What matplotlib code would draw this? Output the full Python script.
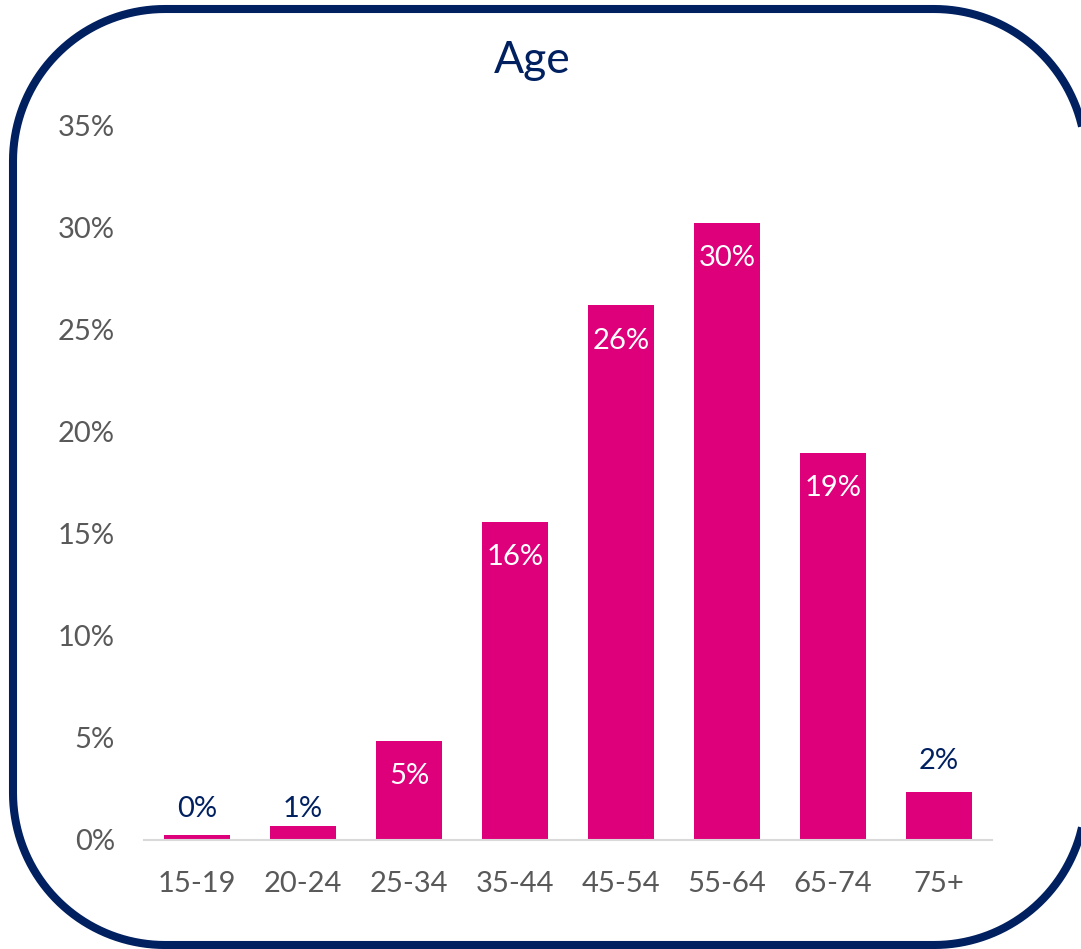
import numpy as np
import matplotlib.pyplot as plt
from matplotlib.patches import PathPatch
from matplotlib.path import Path
from matplotlib.ticker import FuncFormatter

plt.rcParams['font.family'] = ['Lato', 'DejaVu Sans']

ages = ["15-19", "20-24", "25-34", "35-44", "45-54", "55-64", "65-74", "75+"]
shares = [0.23, 0.69, 4.85, 15.6, 26.2, 30.25, 18.97, 2.37]

navy = "#002060"
pink = "#DE007A"
grey = "#595959"

fig = plt.figure(figsize=(10.81, 9.49), dpi=100)
ax = fig.add_axes([0.1332, 0.1149, 0.7845, 0.7524])

x = range(len(ages))
bars = ax.bar(x, shares, width=0.63, color=pink, zorder=2)

for b, v in zip(bars, shares):
    cx = b.get_x() + b.get_width() / 2
    if v > 4:
        ax.annotate(f"{v:.0f}%", (cx, v), xytext=(0, -25.5), textcoords="offset points",
                    ha="center", va="center", color="white", fontsize=21)
    else:
        # small bars: label sits above the bar but never closer to the axis than this
        anchor = v if v > 1.5 else 0
        ax.annotate(f"{v:.0f}%", (cx, anchor), xytext=(0, 22), textcoords="offset points",
                    ha="center", va="center", color=navy, fontsize=21)

ax.set_xlim(-0.5, len(ages) - 0.5)
ax.set_ylim(0, 35)
ax.set_yticks(range(0, 36, 5))
ax.yaxis.set_major_formatter(FuncFormatter(lambda v, p: f"{v:.0f}%"))
ax.set_xticks(list(x))
ax.set_xticklabels(ages)
ax.tick_params(axis="y", length=0, pad=21, labelsize=21, labelcolor=grey)
ax.tick_params(axis="x", length=0, pad=22, labelsize=21, labelcolor=grey)

for s in ["top", "right", "left"]:
    ax.spines[s].set_visible(False)
ax.spines["bottom"].set_color("#D9D9D9")
ax.spines["bottom"].set_linewidth(1.5)

fig.text(0.492, 0.936, "Age", ha="center", va="center", color=navy, fontsize=32)

# rounded frame (inches), partly cut off on the right
x0, x1, y0, y1, r = 0.13, 10.86, 0.04, 9.40, 1.52
pts = []
for cx, cy, a0 in [(x1 - r, y1 - r, 0), (x0 + r, y1 - r, 90),
                   (x0 + r, y0 + r, 180), (x1 - r, y0 + r, 270)]:
    t = np.radians(np.linspace(a0, a0 + 90, 40))
    pts += list(zip(cx + r * np.cos(t), cy + r * np.sin(t)))
pts.append(pts[0])
frame = PathPatch(Path(pts), transform=fig.dpi_scale_trans, fill=False,
                  edgecolor=navy, linewidth=5.8, clip_on=False)
fig.patches.append(frame)

fig.savefig("out.png", dpi=100)
